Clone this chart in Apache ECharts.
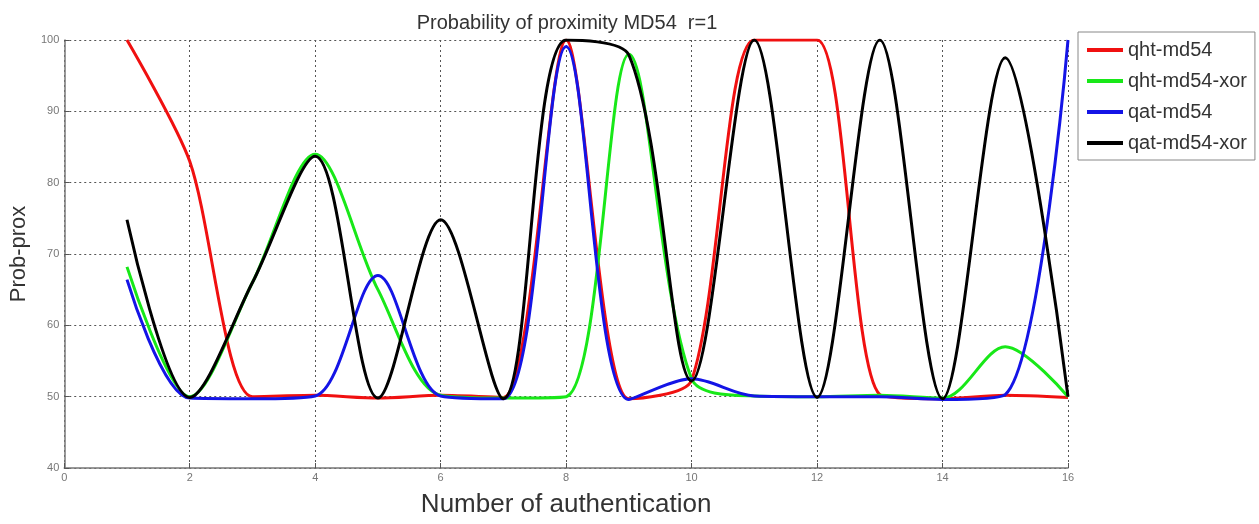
<!DOCTYPE html>
<html>
<head>
<meta charset="utf-8">
<script src="https://cdn.jsdelivr.net/npm/echarts@6/dist/echarts.min.js"></script>
<style>
html,body{margin:0;padding:0;background:#fff;}
#chart{width:1259px;height:524px;}
</style>
</head>
<body>
<div id="chart"></div>
<script>
var xValues = [1,2,3,4,5,6,7,8,9,10,11,12,13,14,15,16];
var qhtMd54 =    [100, 83, 50, 50.2, 49.8, 50.2, 49.9, 100, 49.7, 52.3, 100, 100, 50.3, 49.7, 50.2, 49.9];
var qhtMd54Xor = [68.2, 50, 66, 84, 65, 50.2, 49.8, 50, 98, 52.5, 50.1, 50, 50.2, 49.8, 57, 50];
var qatMd54 =    [66.4, 49.8, 49.7, 50.1, 67, 50.1, 49.7, 99.1, 49.6, 52.5, 50.1, 50, 50, 49.6, 50.3, 100];
var qatMd54Xor = [74.8, 49.9, 66, 83.7, 49.8, 74.8, 49.7, 100, 97.9, 52.2, 100, 49.9, 100, 49.7, 97.5, 50];
var seriesNames = ['qht-md54','qht-md54-xor','qat-md54','qat-md54-xor'];
var seriesColors = ['#f01010','#18e818','#1414e6','#000000'];
var seriesSmooth = [0.27, 0.32, 0.32, 0.32];
var seriesValues = [qhtMd54, qhtMd54Xor, qatMd54, qatMd54Xor];

function pairs(vals){ return vals.map(function(v,i){ return [xValues[i], v]; }); }

var chart = echarts.init(document.getElementById('chart'), null, {renderer:'canvas'});
var gridLine = {show:true, lineStyle:{color:'#555', type:[2,3], width:1}};
chart.setOption({
  backgroundColor:'#fff',
  animation:false,
  title:{
    text:'Probability of proximity MD54  r=1',
    left:562, top:8, textAlign:'center',
    textStyle:{fontFamily:'Liberation Sans', fontSize:20, fontWeight:'normal', color:'#333'}
  },
  legend:{
    orient:'vertical', left:1078, top:32,
    padding:[8,8,7,9], itemGap:11,
    borderColor:'#888', borderWidth:1,
    icon:'rect', itemWidth:36, itemHeight:4,
    textStyle:{fontFamily:'Liberation Sans', fontSize:20, color:'#333', lineHeight:20},
    data:seriesNames
  },
  grid:{left:62, right:191, top:40, bottom:56},
  xAxis:{
    type:'value', min:0, max:16, interval:2,
    name:'Number of authentication', nameLocation:'middle', nameGap:24,
    nameTextStyle:{fontFamily:'Liberation Sans', fontSize:26, color:'#333'},
    axisLine:{show:true, onZero:false, lineStyle:{color:'#777', width:1.5}},
    axisTick:{show:true, inside:true, length:5, lineStyle:{color:'#555'}},
    axisLabel:{fontFamily:'Liberation Sans', fontSize:11, color:'#777', margin:4},
    splitLine:gridLine
  },
  yAxis:{
    type:'value', min:40, max:100, interval:10,
    name:'Prob-prox', nameLocation:'middle', nameGap:24, nameRotate:90,
    nameTextStyle:{fontFamily:'Liberation Sans', fontSize:22, color:'#333'},
    axisLine:{show:true, onZero:false, lineStyle:{color:'#777', width:1.5}},
    axisTick:{show:true, inside:true, length:5, lineStyle:{color:'#555'}},
    axisLabel:{fontFamily:'Liberation Sans', fontSize:11, color:'#777', margin:5},
    splitLine:gridLine
  },
  series:seriesNames.map(function(n,i){
    return {
      name:n, type:'line', data:pairs(seriesValues[i]),
      smooth:seriesSmooth[i], showSymbol:false, symbol:'none',
      lineStyle:{color:seriesColors[i], width:3},
      itemStyle:{color:seriesColors[i]}
    };
  })
});
</script>
</body>
</html>
